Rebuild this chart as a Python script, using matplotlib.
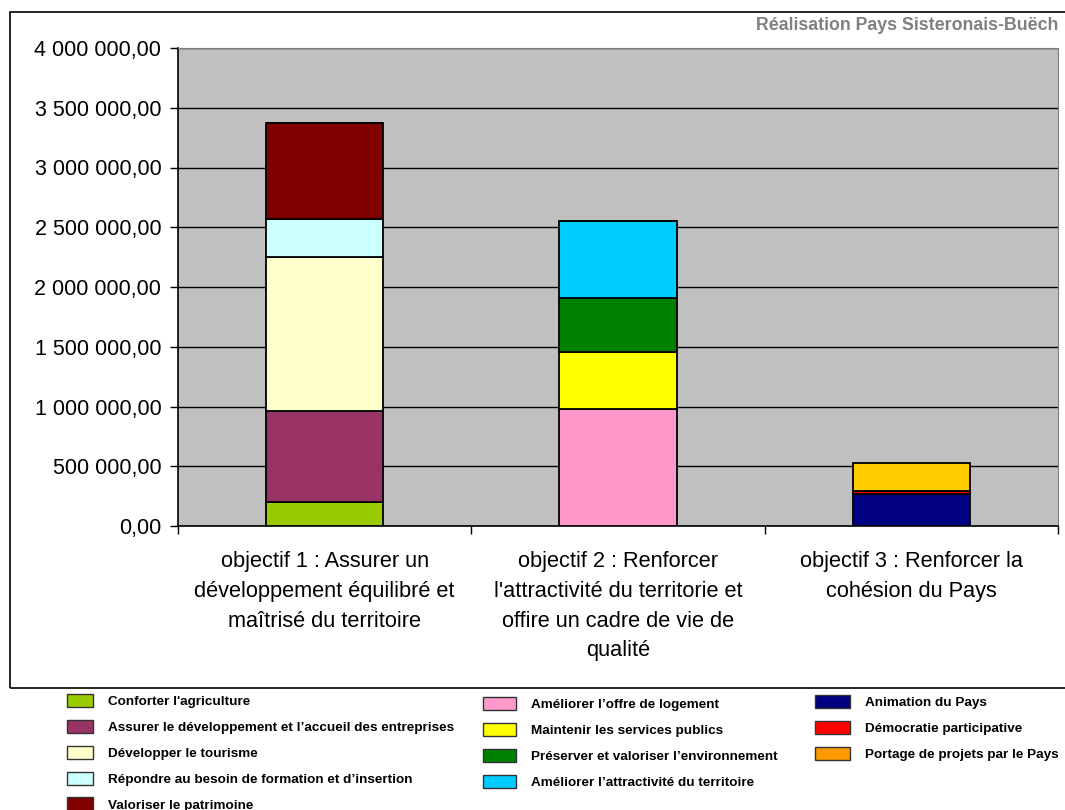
import matplotlib.pyplot as plt
from matplotlib.patches import Patch, Rectangle
from matplotlib.ticker import FuncFormatter, FixedLocator

plt.rcParams['font.family'] = ['Liberation Sans', 'DejaVu Sans']

# Objectives (x categories)
objectifs = ["objectif 1 : Assurer un\ndéveloppement équilibré et\nmaîtrisé du territoire",
             "objectif 2 : Renforcer\nl'attractivité du territorie et\noffire un cadre de vie de\nqualité",
             "objectif 3 : Renforcer la\ncohésion du Pays"]

# Actions, one value per objective (euros)
actions = ["Conforter l'agriculture",
           "Assurer le développement et l’accueil des entreprises",
           "Développer le tourisme",
           "Répondre au besoin de formation et d’insertion",
           "Valoriser le patrimoine",
           "Améliorer l’offre de logement",
           "Maintenir les services publics",
           "Préserver et valoriser l’environnement",
           "Améliorer l’attractivité du territoire",
           "Animation du Pays",
           "Démocratie participative",
           "Portage de projets par le Pays"]
montants = [[200000, 0, 0],
            [765000, 0, 0],
            [1290000, 0, 0],
            [315000, 0, 0],
            [805000, 0, 0],
            [0, 980000, 0],
            [0, 475000, 0],
            [0, 450000, 0],
            [0, 645000, 0],
            [0, 0, 270000],
            [0, 0, 25000],
            [0, 0, 235000]]
bar_colors = ['#99CC00', '#993366', '#FFFFCC', '#CCFFFF', '#800000',
              '#FF99CC', '#FFFF00', '#008000', '#00CCFF',
              '#000080', '#FF0000', '#FFCC00']
legend_colors = bar_colors[:11] + ['#FF9900']

fig = plt.figure(figsize=(10.65, 8.1), dpi=100)
ax = fig.add_axes([178 / 1065, 1 - 526 / 810, 880 / 1065, 478 / 810])
ax.set_facecolor('#C0C0C0')

x = range(len(objectifs))
bottom = [0, 0, 0]
for vals, col in zip(montants, bar_colors):
    ax.bar(x, vals, width=0.4, bottom=bottom, color=col, edgecolor='black', linewidth=1.3, zorder=3)
    bottom = [b + v for b, v in zip(bottom, vals)]

ax.set_ylim(0, 4000000)
ax.set_xlim(-0.5, 2.5)
ax.set_yticks(range(0, 4000001, 500000))
ax.yaxis.set_major_formatter(FuncFormatter(lambda v, p: f"{v:,.2f}".replace(",", " ").replace(".", ",")))
ax.grid(axis='y', color='black', linewidth=1, zorder=1)
ax.tick_params(axis='y', labelsize=15.5, length=6, width=1, pad=6)

ax.set_xticks(list(x))
ax.set_xticklabels(objectifs, fontsize=15.7, linespacing=1.55, va='top')
ax.tick_params(axis='x', which='major', length=0, pad=18)
ax.xaxis.set_minor_locator(FixedLocator([-0.5, 0.5, 1.5, 2.5]))
ax.tick_params(axis='x', which='minor', length=6, width=1)

for s in ['top', 'right']:
    ax.spines[s].set_color('#808080')
for s in ['left', 'bottom']:
    ax.spines[s].set_color('black')
    ax.spines[s].set_linewidth(1.2)

# outer frame of chart area
fig.patches.append(Rectangle((10 / 1065, 1 - 688 / 810), 1.1, 676 / 810, transform=fig.transFigure,
                             fill=False, edgecolor='black', linewidth=1.2))

fig.text(1058 / 1065, 1 - 25 / 810, "Réalisation Pays Sisteronais-Buëch", ha='right', va='center',
         fontsize=12.8, fontweight='bold', color='#808080')

# legend in three columns
handles = [Patch(facecolor=c, edgecolor='#333333', linewidth=1) for c in legend_colors]
cols = [(range(0, 5), 67, 694, 1.95), (range(5, 9), 483, 697, 2.45), (range(9, 12), 815, 695, 2.6)]
for idx, lx, ly, hl in cols:
    fig.legend([handles[i] for i in idx], [actions[i] for i in idx],
               loc='upper left', bbox_to_anchor=(lx / 1065, 1 - ly / 810),
               frameon=False, borderpad=0, borderaxespad=0,
               prop={'size': 9.7, 'weight': 'bold'},
               handlelength=hl, handleheight=1.15, handletextpad=1.1, labelspacing=0.86)

fig.savefig('out.png', dpi=100)
